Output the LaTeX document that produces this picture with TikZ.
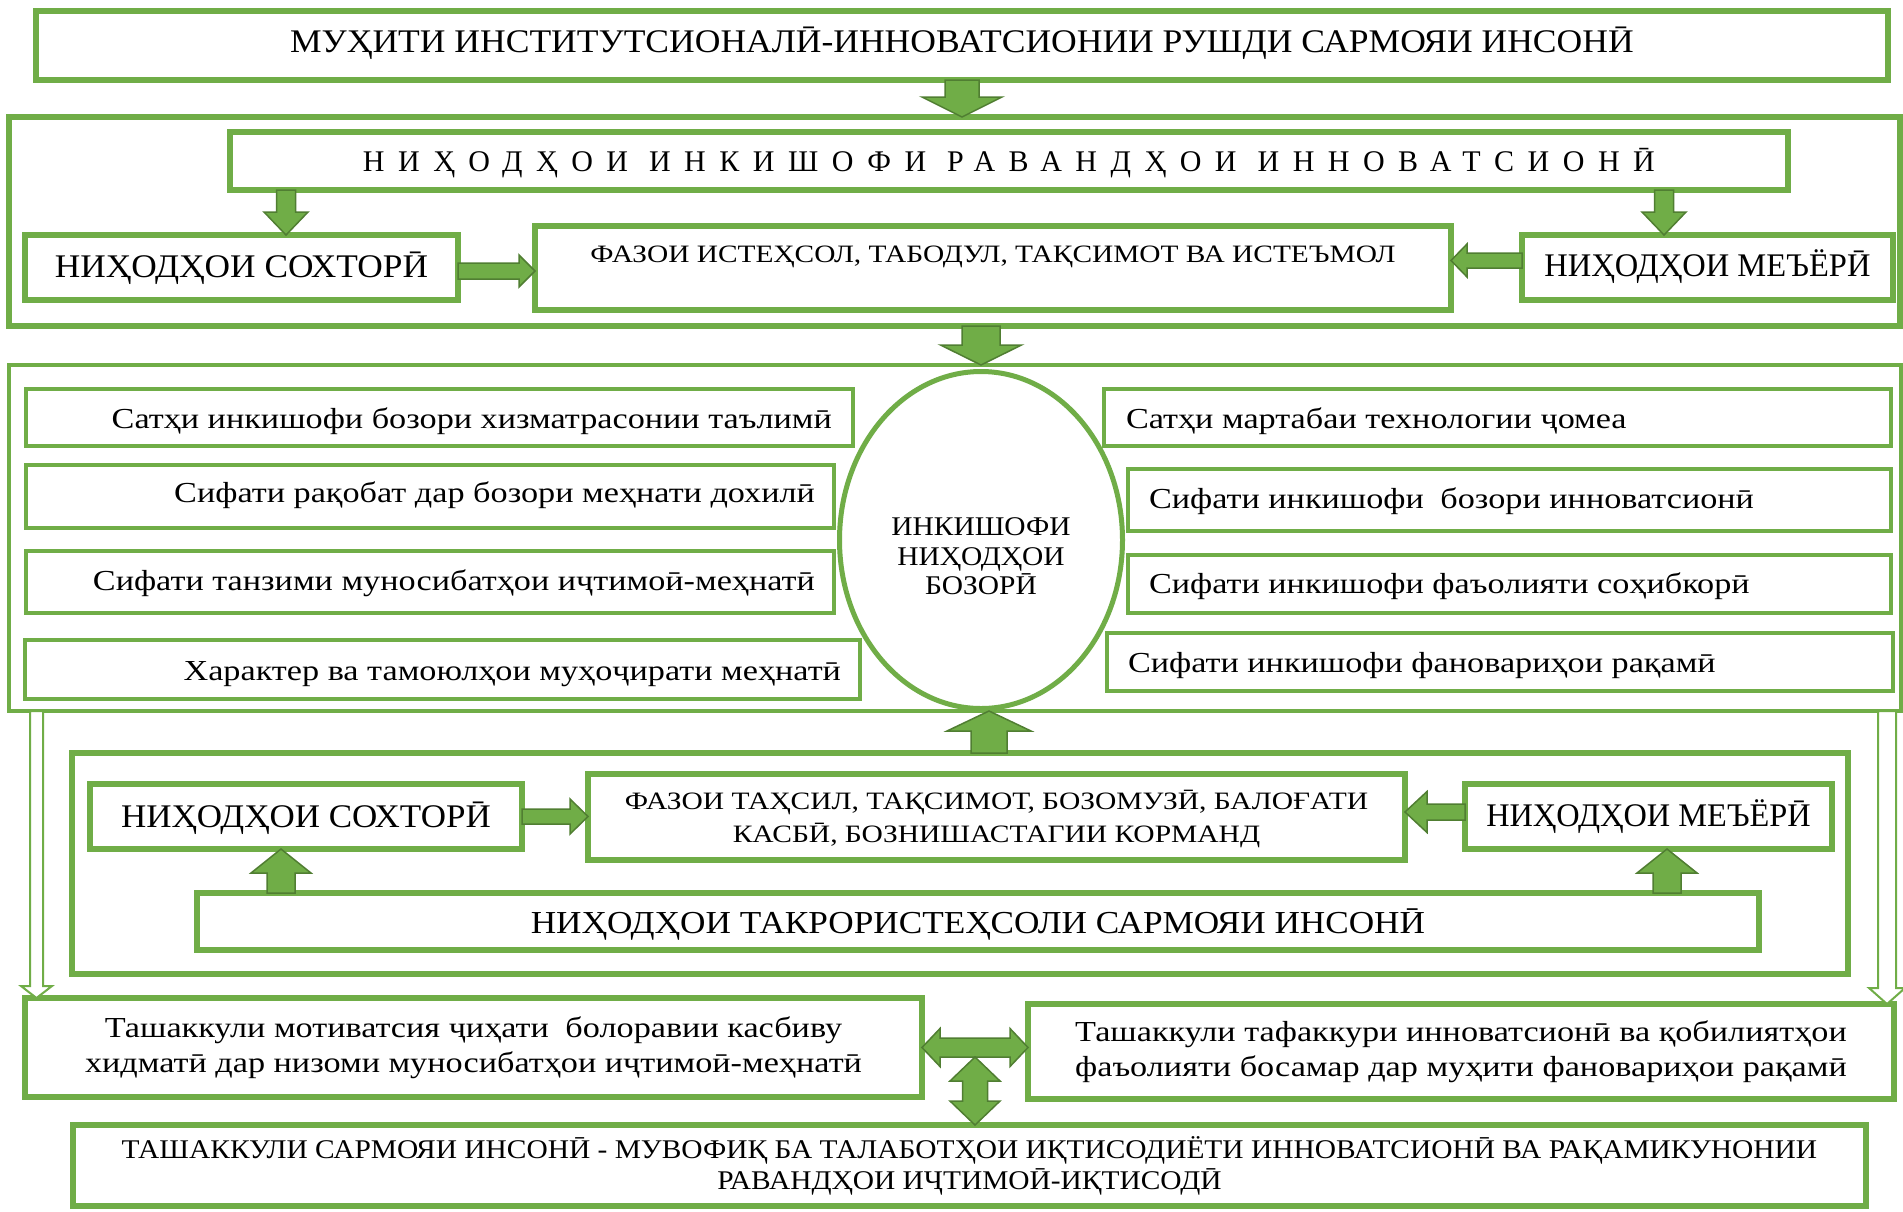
\documentclass[tikz,border=0pt]{standalone}
\usepackage{fontspec}
\setmainfont{Liberation Serif}
\newfontfamily\spacedfont[LetterSpace=45]{Liberation Serif}
\usetikzlibrary{calc,shapes.geometric}
\definecolor{grn}{HTML}{70AD47}
\definecolor{dgrn}{HTML}{507E32}
\newcommand\fsz[2]{\fontsize{#1pt}{#2pt}\selectfont}
\newcommand\wid[1]{\addfontfeatures{FakeStretch=#1}}
\newcommand\bx[6][box]{\node[#1,minimum width={#4-#2},minimum height={#5-#3}] (#6) at ({(#2+#4)/2},{(#3+#5)/2}) {};}
\newcommand\sarrow[6][barrow]{%
  \coordinate (aA) at (#2); \coordinate (aB) at (#3);
  \coordinate (aC) at ($(aB)!#6!(aA)$);
  \filldraw[#1] ($(aA)!#4!90:(aB)$) -- ($(aC)!#4!90:(aB)$) -- ($(aC)!#5!90:(aB)$) -- (aB) -- ($(aC)!#5!-90:(aB)$) -- ($(aC)!#4!-90:(aB)$) -- ($(aA)!#4!-90:(aB)$) -- cycle;}
\newcommand\darrow[6][barrow]{%
  \coordinate (aA) at (#2); \coordinate (aB) at (#3);
  \coordinate (aC) at ($(aA)!#6!(aB)$); \coordinate (aD) at ($(aB)!#6!(aA)$);
  \filldraw[#1] (aA) -- ($(aC)!#5!90:(aB)$) -- ($(aC)!#4!90:(aB)$) -- ($(aD)!#4!90:(aB)$) -- ($(aD)!#5!90:(aB)$) -- (aB) -- ($(aD)!#5!-90:(aB)$) -- ($(aD)!#4!-90:(aB)$) -- ($(aC)!#4!-90:(aB)$) -- ($(aC)!#5!-90:(aB)$) -- cycle;}
\begin{document}
\begin{tikzpicture}[x=1pt,y=-1pt,
  box/.style={draw=grn,line width=5.5pt,rectangle,inner sep=0pt,outer sep=0pt},
  thinbox/.style={box,line width=4pt},
  txt/.style={inner sep=0pt,outer sep=0pt,text=black,font=\wid{1.18}\fsz{29}{35}},
  barrow/.style={fill=grn,draw=dgrn,line width=1.5pt,line join=miter},
  harrow/.style={fill=white,draw=grn,line width=2pt,line join=miter}]
\useasboundingbox[fill=white] (0,0) rectangle (1903,1211);
% level 1
\bx{36}{11}{1888}{80}{top}
% level 2
\bx{9}{117}{1900}{326}{box2}
\bx{230}{132}{1788}{190}{inn}
\bx{25}{235}{458}{300}{sokh1}
\bx{535}{226}{1451}{310}{faz1}
\bx{1522}{235}{1893}{300}{meyor1}
% level 3
\bx[thinbox]{9}{365}{1901}{711}{box3}
\bx[thinbox]{26}{389}{853}{446}{L1}
\bx[thinbox]{26}{465}{834}{528}{L2}
\bx[thinbox]{26}{551}{834}{613}{L3}
\bx[thinbox]{25}{640}{860}{699}{L4}
\bx[thinbox]{1104}{389}{1891}{446}{R1}
\bx[thinbox]{1128}{469}{1891}{531}{R2}
\bx[thinbox]{1128}{555}{1891}{613}{R3}
\bx[thinbox]{1107}{633}{1893}{691}{R4}
\node[draw=grn,line width=5pt,ellipse,fill=white,inner sep=0pt,outer sep=0pt,minimum width=283,minimum height=337] (ell) at (981,540) {};
% level 4
\bx{72}{753}{1848}{974}{box4}
\bx{90}{784}{522}{849}{sokh2}
\bx{588}{774}{1405}{860}{faz2}
\bx{1465}{784}{1832}{849}{meyor2}
\bx{197}{893}{1759}{950}{takror}
% level 5
\bx{25}{998}{922}{1097}{BL}
\bx{1028}{1004}{1894}{1099}{BR}
\bx{73}{1125}{1866}{1206}{bottom}

% texts
\node[txt,font=\wid{1.077}\fsz{33}{40},anchor=base] (tTitle) at ([yshift=-6.5pt]top.center) {МУҲИТИ ИНСТИТУТСИОНАЛӢ-ИННОВАТСИОНИИ РУШДИ САРМОЯИ ИНСОНӢ};
\node[txt,font=\spacedfont\fsz{30}{36},anchor=base] (tInn) at ([yshift=-10pt]inn.center) {НИҲОДҲОИ ИНКИШОФИ РАВАНДҲОИ ИННОВАТСИОНӢ};
\node[txt,font=\wid{1.07}\fsz{33}{40},anchor=base] (tSokh1) at ([yshift=-9.5pt]sokh1.center) {НИҲОДҲОИ СОХТОРӢ};
\node[txt,font=\wid{1.175}\fsz{25}{30},anchor=base] (tFaz1) at ([yshift=6pt]faz1.center) {ФАЗОИ ИСТЕҲСОЛ, ТАБОДУЛ, ТАҚСИМОТ ВА ИСТЕЪМОЛ};
\node[txt,font=\wid{0.985}\fsz{33}{40},anchor=base] (tMeyor1) at ([yshift=-8.5pt]meyor1.center) {НИҲОДҲОИ МЕЪЁРӢ};

\node[txt,anchor=base east] (tL1) at ([xshift=-21pt,yshift=-10.5pt]L1.east) {Сатҳи инкишофи бозори хизматрасонии таълимӣ};
\node[txt,anchor=base east] (tL2) at ([xshift=-19pt,yshift=-6pt]L2.east) {Сифати рақобат дар бозори меҳнати дохилӣ};
\node[txt,anchor=base east] (tL3) at ([xshift=-19pt,yshift=-8pt]L3.east) {Сифати танзими муносибатҳои иҷтимоӣ-меҳнатӣ};
\node[txt,anchor=base east] (tL4) at ([xshift=-19pt,yshift=-10.5pt]L4.east) {Характер ва тамоюлҳои муҳоҷирати меҳнатӣ};
\node[txt,anchor=base west] (tR1) at ([xshift=22pt,yshift=-10.5pt]R1.west) {Сатҳи мартабаи технологии ҷомеа};
\node[txt,anchor=base west] (tR2) at ([xshift=21pt,yshift=-8pt]R2.west) {Сифати инкишофи\hspace{8pt} бозори инноватсионӣ};
\node[txt,anchor=base west] (tR3) at ([xshift=21pt,yshift=-9pt]R3.west) {Сифати инкишофи фаъолияти соҳибкорӣ};
\node[txt,anchor=base west] (tR4) at ([xshift=21pt,yshift=-10pt]R4.west) {Сифати инкишофи фановариҳои рақамӣ};
\node[txt,font=\wid{1.09}\fsz{27}{29.5},align=center] (tEll) at ([yshift=-16.5pt]ell.center) {ИНКИШОФИ\\НИҲОДҲОИ\\БОЗОРӢ};

\node[txt,font=\wid{1.06}\fsz{33}{40},anchor=base] (tSokh2) at ([yshift=-10.5pt]sokh2.center) {НИҲОДҲОИ СОХТОРӢ};
\node[txt,font=\wid{1.18}\fsz{25}{33},align=center] (tFaz2) at ([yshift=-1.5pt]faz2.center) {ФАЗОИ ТАҲСИЛ, ТАҚСИМОТ, БОЗОМУЗӢ, БАЛОҒАТИ\\КАСБӢ, БОЗНИШАСТАГИИ КОРМАНД};
\node[txt,font=\wid{0.98}\fsz{33}{40},anchor=base] (tMeyor2) at ([yshift=-9.5pt]meyor2.center) {НИҲОДҲОИ МЕЪЁРӢ};
\node[txt,font=\wid{1.10}\fsz{32}{40},anchor=base] (tTakror) at ([yshift=-11.5pt]takror.center) {НИҲОДҲОИ ТАКРОРИСТЕҲСОЛИ САРМОЯИ ИНСОНӢ};

\node[txt,align=center] (tBL) at (BL.center) {Ташаккули мотиватсия ҷиҳати\hspace{8pt} болоравии касбиву\\хидматӣ дар низоми муносибатҳои иҷтимоӣ-меҳнатӣ};
\node[txt,align=center] (tBR) at (BR.center) {Ташаккули тафаккури инноватсионӣ ва қобилиятҳои\\фаъолияти босамар дар муҳити фановариҳои рақамӣ};
\node[txt,font=\wid{1.09}\fsz{27}{31},align=center] (tBottom) at (bottom.center) {ТАШАККУЛИ САРМОЯИ ИНСОНӢ - МУВОФИҚ БА ТАЛАБОТҲОИ ИҚТИСОДИЁТИ ИННОВАТСИОНӢ ВА РАҚАМИКУНОНИИ\\РАВАНДҲОИ ИҶТИМОӢ-ИҚТИСОДӢ};

% arrows
\sarrow{top.south}{top.south |- box2.north}{17pt}{40pt}{20pt}
\coordinate (innL) at ([xshift=56pt]inn.south west);
\coordinate (innR) at ([xshift=-124pt]inn.south east);
\sarrow{innL}{innL |- sokh1.north}{9.5pt}{22pt}{23pt}
\sarrow{innR}{innR |- meyor1.north}{9.5pt}{22pt}{23pt}
\coordinate (s1e) at ([yshift=-3.5pt]sokh1.east);
\sarrow{s1e}{s1e -| faz1.west}{8pt}{16pt}{16pt}
\coordinate (m1w) at ([yshift=7pt]meyor1.west);
\sarrow{m1w}{m1w -| faz1.east}{7.5pt}{16.5pt}{16pt}
\sarrow{ell.north |- box2.south}{ell.north |- box3.north}{19pt}{40.5pt}{20pt}
\coordinate (ells) at ([xshift=8pt]ell.south);
\sarrow{ells |- box4.north}{ells |- box3.south}{18pt}{42pt}{20pt}
\coordinate (s2s) at ([xshift=-25pt]sokh2.south);
\sarrow{s2s |- takror.north}{s2s}{14pt}{30pt}{24pt}
\coordinate (m2s) at ([xshift=18.5pt]meyor2.south);
\sarrow{m2s |- takror.north}{m2s}{14pt}{30pt}{24pt}
\sarrow{sokh2.east}{sokh2.east -| faz2.west}{7.5pt}{17.5pt}{18pt}
\coordinate (m2w) at ([yshift=4.5pt]meyor2.west);
\sarrow{m2w}{m2w -| faz2.east}{8pt}{20.5pt}{22pt}
\coordinate (hl) at ([xshift=11.5pt]BL.north west);
\sarrow[harrow]{hl |- box3.south}{hl}{6.5pt}{15.5pt}{12pt}
\coordinate (hr) at ([xshift=-7pt]BR.north east);
\sarrow[harrow]{hr |- box3.south}{hr}{9pt}{18pt}{16pt}
\coordinate (brw) at (BL.east -| BR.west);
\darrow{BL.east}{brw}{9.5pt}{19pt}{18pt}
\coordinate (hmid) at ($(BL.east)!0.5!(brw)$);
\coordinate (vtop) at ([yshift=-9.5pt]hmid);
\darrow{vtop}{vtop |- bottom.north}{12.5pt}{25pt}{24pt}
\end{tikzpicture}
\end{document}
